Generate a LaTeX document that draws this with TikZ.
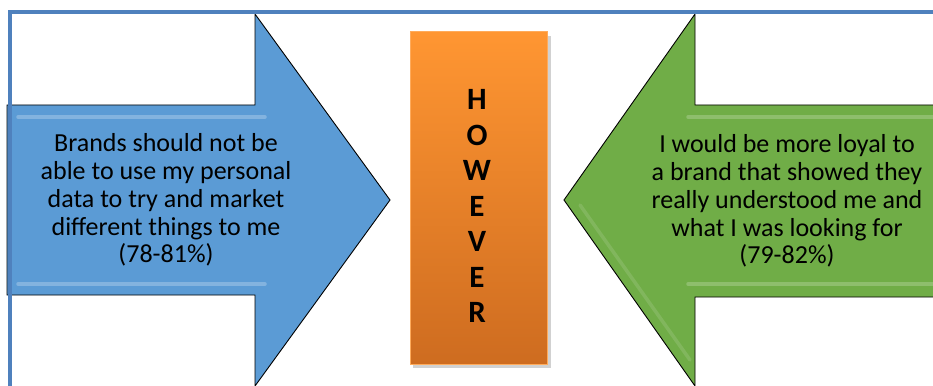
\documentclass[tikz,border=0pt]{standalone}
\usepackage{fontspec}
\setmainfont{Carlito}
\begin{document}
\begin{tikzpicture}[x=1pt,y=-1pt,
  arrowshape/.style={draw=black, line width=0.9pt, line join=miter},
  bodytext/.style={align=center, text=black, font=\fontsize{26}{27.8}\selectfont, inner sep=0pt},
  hilite/.style={line width=3.5pt, opacity=0.35, line cap=round}]
\definecolor{arrowblue}{RGB}{91,155,213}
\definecolor{arrowgreen}{RGB}{112,173,71}
\definecolor{frameblue}{RGB}{79,129,189}
\definecolor{orangetop}{RGB}{255,150,50}
\definecolor{orangebot}{RGB}{206,108,32}
\useasboundingbox (0,0) rectangle (933,385);
\clip (0,0) rectangle (933,385);
\fill[white] (0,0) rectangle (933,385);
% blue arrow
\draw[arrowshape, fill=arrowblue] (7,105) -- (255,105) -- (255,14) -- (390,200) -- (255,386) -- (255,295) -- (7,295) -- cycle;
\draw[hilite, white!70!arrowblue] (18,117) -- (265,117);
\draw[hilite, white!70!arrowblue] (18,284) -- (265,284);
% green arrow
\draw[arrowshape, fill=arrowgreen] (564,200) -- (695,14) -- (695,105) -- (940,105) -- (940,297) -- (695,297) -- (695,386) -- cycle;
\draw[hilite, white!60!arrowgreen] (688,117) -- (940,117);
\draw[hilite, white!60!arrowgreen] (688,284) -- (940,284);
\draw[hilite, opacity=0.2, white!60!arrowgreen] (580,205) -- (690,360);
% orange box
\fill[black, opacity=0.18] (413,36) rectangle (551,368);
\shade[top color=orangetop, bottom color=orangebot] (410,32) rectangle (547,364);
\draw[line width=1pt, orangetop!80!white] (410,32) rectangle (547,364);
\node[align=center, font=\fontsize{31}{35.5}\selectfont\bfseries, inner sep=0pt] (however) at (477,206) {H\\O\\W\\E\\V\\E\\R};
% texts
\node[bodytext] (lefttext) at (166,200) {Brands should not be\\able to use my personal\\data to try and market\\different things to me\\(78-81\%)};
\node[bodytext] (righttext) at (787,201) {I would be more loyal to\\a brand that showed they\\really understood me and\\what I was looking for\\(79-82\%)};
% frame
\draw[frameblue, line width=4pt] (10,400) -- (10,12.5) -- (950,12.5);
\end{tikzpicture}
\end{document}
